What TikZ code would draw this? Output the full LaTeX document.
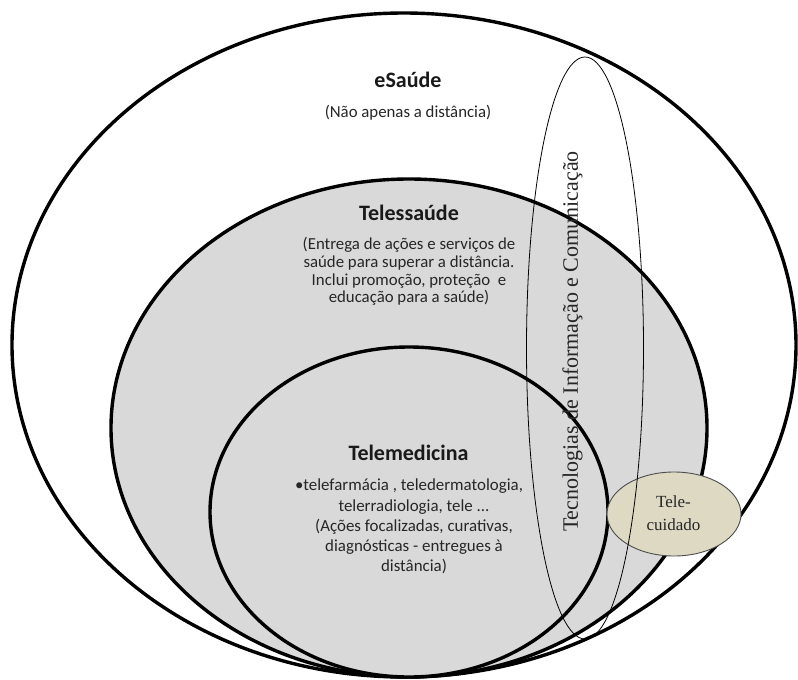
\documentclass[tikz,border=0pt]{standalone}
\usepackage{fontspec}
\setmainfont{Carlito}
\newfontfamily\tnr{Liberation Serif}
\definecolor{ellgray}{HTML}{D9D9D9}
\definecolor{beige}{HTML}{DDD9C3}
\begin{document}
\begin{tikzpicture}[x=1pt,y=-1pt,
  bigell/.style={draw=black, line width=3.4pt},
  thinell/.style={draw=black, line width=0.8pt},
  titletext/.style={font=\fontsize{22}{24}\selectfont\bfseries, text=black!90, inner sep=0pt},
  bodytext/.style={font=\fontsize{16.8}{17.8}\selectfont, text=black!85, inner sep=0pt, align=center},
  medtext/.style={font=\fontsize{16.9}{20.2}\selectfont, text=black!85, inner sep=0pt, align=center},
  serifvert/.style={font=\tnr\fontsize{22}{24}\selectfont, text=black!85, inner sep=0pt, rotate=90},
  seriftext/.style={font=\tnr\fontsize{17}{23}\selectfont, text=black!85, inner sep=0pt, align=center}
]
\useasboundingbox (0,0) rectangle (798,680);
\fill[white] (0,0) rectangle (798,680);
% ellipses
\draw[bigell, fill=white] (404,345) ellipse [x radius=392, y radius=332];
\draw[bigell, fill=ellgray] (409,428) ellipse [x radius=298, y radius=249];
\draw[bigell, fill=ellgray] (409,512) ellipse [x radius=199, y radius=165];
\draw[draw=black!70, line width=0.9pt, fill=beige] (674,514) ellipse [x radius=67, y radius=42];
\draw[thinell] (585,348) ellipse [x radius=58.5, y radius=291];
% texts
\node[titletext] (esaude) at (408,80) {eSaúde};
\node[bodytext] (esaudesub) at (408,113) {(Não apenas a distância)};
\node[titletext] (telessaude) at (409,213) {Telessaúde};
\node[bodytext] (telessaudesub) at (409,271.5) {(Entrega de ações e serviços de\\saúde para superar a distância.\\Inclui promoção, proteção~ e\\educação para a saúde)};
\node[titletext] (telemedicina) at (408.5,453) {Telemedicina};
\node[medtext] (telemedsub) at (414,526.5) {•telefarmácia , teledermatologia,\hspace*{10pt}\\telerradiologia, tele ...\\(Ações focalizadas, curativas,\\diagnósticas - entregues à\\distância)};
\node[serifvert] (tic) at (572.5,341.5) {Tecnologias de Informação e Comunicação};
\node[seriftext] (telecuidado) at (673.5,513.5) {Tele-\\cuidado};
\end{tikzpicture}
\end{document}
